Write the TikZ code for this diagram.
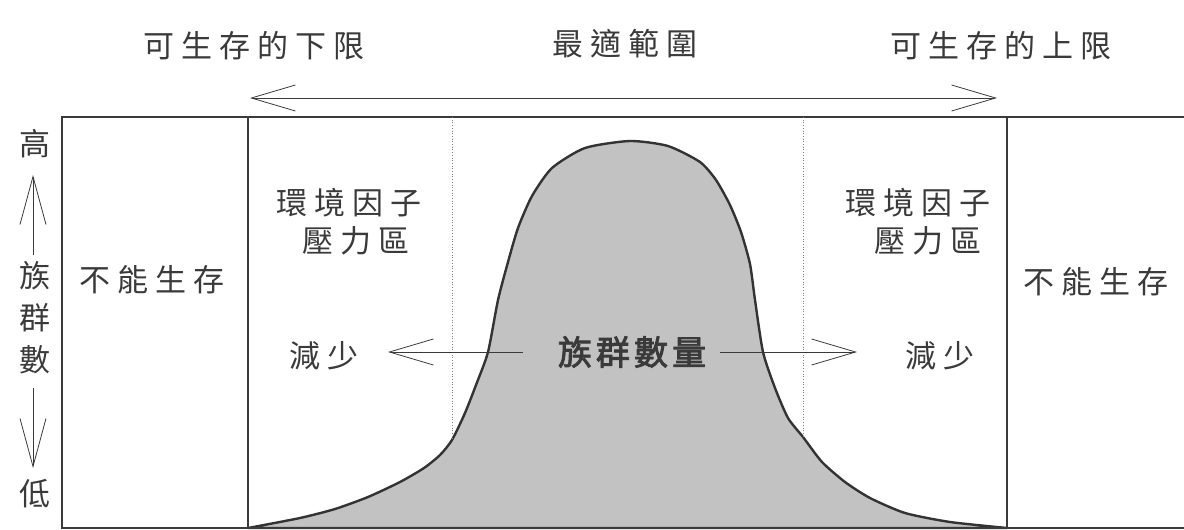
\documentclass[tikz,border=0pt]{standalone}
\usepackage{fontspec}
\usetikzlibrary{arrows.meta}
\newfontfamily\cjk[LetterSpace=22]{Noto Sans CJK TC}
\newfontfamily\cjkb[FakeBold=2.5,LetterSpace=12]{Noto Sans CJK TC}
\definecolor{ink}{HTML}{3A3A3A}
\definecolor{fillg}{HTML}{C2C2C2}
\tikzset{
  lbl/.style={inner sep=0pt, text=ink, font=\cjk\fontsize{31}{42}\selectfont},
  blbl/.style={inner sep=0pt, text=ink, font=\cjkb\fontsize{34}{40}\selectfont},
  frame/.style={draw=ink, line width=2pt},
  dots/.style={draw=gray, line width=0.7pt, dotted},
  barb/.style={draw=ink, line width=0.8pt, -{Straight Barb[length=44pt,width=26pt,line width=0.8pt]}},
  vbarb/.style={draw=ink, line width=0.8pt, -{Straight Barb[length=48pt,width=26pt,line width=0.8pt]}},
  curve/.style={draw=black!80, line width=2.4pt, fill=fillg, line join=round}
}
\begin{document}
\begin{tikzpicture}[x=1pt,y=-1pt]
\useasboundingbox (0,0) rectangle (1184,530);
% curve
\path[curve] plot[smooth, tension=0.4] coordinates {(248,528) (300,518) (335,509) (368,497) (400,482) (424,468) (440,455) (452,440) (465,413) (476,385) (488,352) (498,300) (508,262) (518,228) (532,196) (552,168) (585,148) (630,141) (668,146) (700,162) (716,180) (730,205) (741,232) (750,264) (755,300) (763,352) (775,388) (788,418) (803,437) (822,462) (845,482) (870,498) (905,513) (950,522) (1007,528)} -- cycle;
% frame
\draw[frame] (1184,117) -- (62,117) -- (62,528) -- (1184,528);
\draw[frame] (248,117) -- (248,528);
\draw[frame] (1007,117) -- (1007,528);
\draw[dots] (452,117) -- (452,440);
\draw[dots] (803,117) -- (803,437);
% top labels
\node[lbl] (lo) at (254,46) {可生存的下限};
\node[lbl] (opt) at (625,44) {最適範圍};
\node[lbl] (hi) at (1001,46) {可生存的上限};
\coordinate (tl) at (250,98);
\coordinate (tr) at (997,98);
\draw[barb] (624,98) -- (tl);
\draw[barb] (624,98) -- (tr);
% left axis
\node[lbl] (high) at (35,144) {高};
\node[lbl, align=center] (pop) at (35,318) {族\\群\\數};
\node[lbl] (low) at (35,494) {低};
\coordinate (uptip) at (33,175);
\coordinate (dntip) at (33,468);
\draw[vbarb] (33,255) -- (uptip);
\draw[vbarb] (33,388) -- (dntip);
% regions
\node[lbl] (no1) at (152,280) {不能生存};
\node[lbl] (no2) at (1096,282) {不能生存};
\node[lbl] (s1a) at (349,203) {環境因子};
\node[lbl] (s1b) at (356,241) {壓力區};
\node[lbl] (s2a) at (918,203) {環境因子};
\node[lbl] (s2b) at (928,241) {壓力區};
\node[lbl] (d1) at (324,356) {減少};
\node[lbl] (d2) at (940,356) {減少};
% center
\node[blbl] (cnt) at (632,352) {族群數量};
\coordinate (cl) at (388,352);
\coordinate (cr) at (857,352);
\draw[barb] (523,352) -- (cl);
\draw[barb] (720,352) -- (cr);
\end{tikzpicture}
\end{document}
